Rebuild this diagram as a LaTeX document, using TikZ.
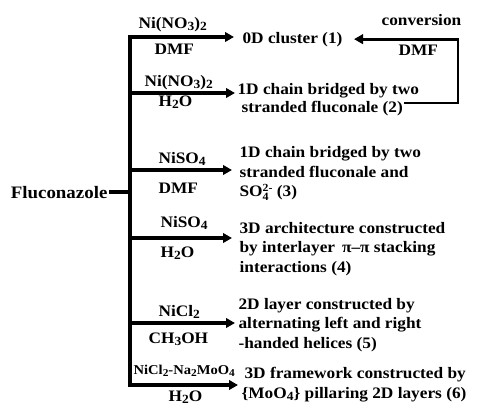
\documentclass[tikz,border=0pt]{standalone}
\usepackage{fontspec}
\usepackage{graphicx}
\setmainfont{Liberation Serif}[FakeStretch=1.08]
\usetikzlibrary{arrows.meta}
\newcommand\lsub[1]{\raisebox{-0.35ex}{\scalebox{0.78}{#1}}}
\newcommand\lsupsub[2]{\makebox[0.62em][l]{\rlap{\raisebox{0.7ex}{\scalebox{0.68}{#1}}}\raisebox{-0.5ex}{\scalebox{0.7}{#2}}}}
\begin{document}
\begin{tikzpicture}[x=1pt,y=-1pt,
  font=\fontsize{16}{19.5}\selectfont\bfseries,
  line width=3.2pt,
  arr/.style={-{Triangle[length=9pt,width=9.5pt]}},
  prod/.style={anchor=base west, inner sep=0pt, align=left},
  lab/.style={anchor=base west, inner sep=0pt}]
\useasboundingbox (0,0) rectangle (486,407);

% start
\node[anchor=base east, inner sep=0pt, font=\fontsize{17.5}{20}\selectfont\bfseries] (fl) at (109,198) {Fluconazole};

% branch points
\coordinate (b1) at (130,37);
\coordinate (b2) at (130,93);
\coordinate (b3) at (130,170);
\coordinate (b4) at (130,238);
\coordinate (b5) at (130,323);
\coordinate (b6) at (130,385);

% products (anchor = baseline of last line)
\node[prod] (p1) at (241,43) {0D cluster (1)};
\node[prod] (p2) at (236,112) {1D chain bridged by two\\[-2pt]\hspace*{4pt}stranded fluconale (2)};
\node[prod] (p3) at (238,196.5) {1D chain bridged by two\\stranded fluconale and\\SO\lsupsub{2-}{4}\ (3)};
\node[prod] (p4) at (238,272) {3D architecture constructed\\by interlayer \,π–π stacking\\interactions (4)};
\node[prod] (p5) at (237,348) {2D layer constructed by\\alternating left and right\\-handed helices (5)};
\node[prod] (p6) at (240,398) {\hspace*{3pt}3D framework constructed by\\\{MoO\lsub{4}\} pillaring 2D layers (6)};

% reagent labels
\node[lab] (a1) at (137,28) {Ni(NO\lsub{3})\lsub{2}};
\node[lab] (d1) at (153,54) {DMF};
\node[lab] (a2) at (143,86) {Ni(NO\lsub{3})\lsub{2}};
\node[lab] (d2) at (157,106) {H\lsub{2}O};
\node[lab] (a3) at (157,163) {NiSO\lsub{4}};
\node[lab] (d3) at (157,193) {DMF};
\node[lab] (a4) at (159,227) {NiSO\lsub{4}};
\node[lab] (d4) at (159,257) {H\lsub{2}O};
\node[lab] (a5) at (157,316) {NiCl\lsub{2}};
\node[lab] (d5) at (147,343) {CH\lsub{3}OH};
\node[lab, font=\fontsize{13.5}{15}\selectfont\bfseries] (a6) at (132,374) {NiCl\lsub{2}-Na\lsub{2}MoO\lsub{4}};
\node[lab] (d6) at (167,401) {H\lsub{2}O};

% conversion labels
\node[lab] (cv) at (380,25) {conversion};
\node[lab] (cd) at (397,55) {DMF};

% connectors
\draw (fl.east) -- (fl.east -| b1);
\draw[line cap=rect] (b1) -- (b6);
\draw[arr, shorten >=7pt] (b1) -- (b1 -| p1.west);
\draw[arr, shorten >=1pt] (b2) -- (b2 -| p2.west);
\draw[arr, shorten >=6pt] (b3) -- (b3 -| p3.west);
\draw[arr, shorten >=6pt] (b4) -- (b4 -| p4.west);
\draw[arr, shorten >=2pt] (b5) -- (b5 -| p5.west);
\draw[arr, shorten >=2pt] (b6) -- (b6 -| p6.west);

\coordinate (c0) at (404,103);
\coordinate (c1) at (458,103);
\draw[arr, line width=2.8pt] (c0) -- (c1) |- ([xshift=10pt]p1.east);
\end{tikzpicture}
\end{document}
